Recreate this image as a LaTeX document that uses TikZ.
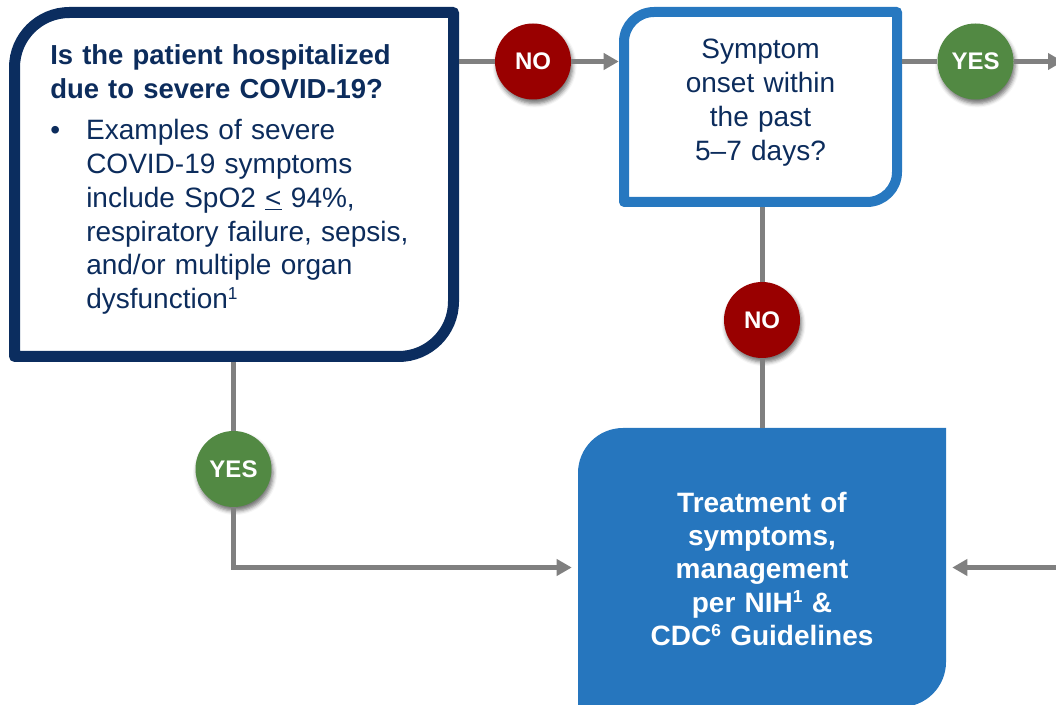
\documentclass[tikz,border=0pt]{standalone}
\usepackage{fontspec}
\setmainfont{Liberation Sans}
\usetikzlibrary{arrows.meta,shadows.blur,fit,calc}
\definecolor{navy}{HTML}{0B2D5F}
\definecolor{txtnavy}{HTML}{0C2C5C}
\definecolor{midblue}{HTML}{2778C0}
\definecolor{fillblue}{HTML}{2676BE}
\definecolor{nored}{HTML}{990000}
\definecolor{yesgreen}{HTML}{528943}
\definecolor{conngray}{HTML}{808080}
\newcommand{\supnum}[1]{\raisebox{7pt}{\fontsize{13pt}{13pt}\selectfont #1}}
\begin{document}
\begin{tikzpicture}[x=0.75pt,y=-0.75pt,
  frame/.style={fit={#1},inner sep=0pt},
  conn/.style={draw=conngray,line width=3.75pt},
  arrowconn/.style={conn,-{Triangle[length=11.25pt,width=12pt]}},
  badge/.style={circle,minimum size=57pt,inner sep=0pt,text=white,
    font=\fontsize{18pt}{20pt}\selectfont\bfseries,
    blur shadow={shadow xshift=1.2pt,shadow yshift=-3pt,shadow blur radius=3pt,shadow opacity=55}},
  nobadge/.style={badge,fill=nored},
  yesbadge/.style={badge,fill=yesgreen},
  titletext/.style={text=txtnavy,font=\fontsize{20.6pt}{25.3pt}\selectfont\bfseries,inner sep=0pt},
  bodytext/.style={text=txtnavy,font=\fontsize{21pt}{25.3pt}\selectfont,inner sep=0pt},
  whitetext/.style={text=white,font=\fontsize{21pt}{25pt}\selectfont\bfseries,inner sep=0pt}
]
\useasboundingbox (0,0) rectangle (1056,705);

% frames used as anchors
\node[frame={(9,7) (459,362)}] (b1) {};
\node[frame={(619,7) (902,207)}] (b2) {};
\node[frame={(578,428) (946,707)}] (b3) {};

% box shapes
\draw[navy,line width=8.25pt,line join=round]
  (14.5,356.5) -- (14.5,67.5) arc[start angle=180,end angle=270,radius=55]
  -- (453.5,12.5) -- (453.5,301.5) arc[start angle=0,end angle=90,radius=55] -- cycle;
\draw[midblue,line width=7.5pt,line join=round]
  (624,202) -- (624,42) arc[start angle=180,end angle=270,radius=30]
  -- (897,12) -- (897,172) arc[start angle=0,end angle=90,radius=30] -- cycle;
\fill[fillblue]
  (578,707) -- (578,473) arc[start angle=180,end angle=270,radius=45]
  -- (946,428) -- (946,662) arc[start angle=0,end angle=90,radius=45] -- cycle;

% texts
\node[titletext,anchor=base west,text width=320pt,align=left] (t1) at (50,65)
  {Is the patient hospitalized\\due to severe COVID-19?};
\node[bodytext,anchor=base west,text width=270pt,align=left] (t2) at (86,140)
  {\llap{•\hspace{19.5pt}}Examples of severe\\COVID-19 symptoms\\include SpO2 \underline{<} 94\%,\\respiratory failure, sepsis,\\and/or multiple organ\\dysfunction\supnum{1}};
\node[bodytext,anchor=base,text width=200pt,align=center] (t3) at (760.5,59)
  {Symptom\\onset within\\the past\\5–7 days?};
\node[whitetext,anchor=base,text width=260pt,align=center] (t4) at (762,512)
  {Treatment of\\symptoms,\\management\\per NIH\supnum{1} \&\\CDC\supnum{6} Guidelines};

% badges
\node[nobadge] (no1) at (533,61.5) {NO};
\node[yesbadge] (yes2) at (975.5,61.5) {YES};
\node[nobadge] (no2) at (762,320) {NO};
\node[yesbadge] (yes1) at (233.5,469) {YES};

\coordinate (rtop) at (1063,61.5);
\coordinate (rbot) at (1062,567.5);

% connectors
\draw[conn] (b1.east |- no1) -- (no1);
\draw[arrowconn] (no1) -- (b2.west |- no1);
\draw[conn] (b2.east |- yes2) -- (yes2);
\draw[arrowconn] (yes2) -- (rtop);
\draw[conn] (no2 |- b2.south) -- (no2);
\draw[conn] (no2) -- (no2 |- b3.north);
\draw[conn] (yes1 |- b1.south) -- (yes1);
\draw[arrowconn,shorten >=4.5pt] (yes1) |- (b3.west);
\draw[arrowconn,shorten >=4.5pt] (rbot) -- (b3.east);
\end{tikzpicture}
\end{document}
